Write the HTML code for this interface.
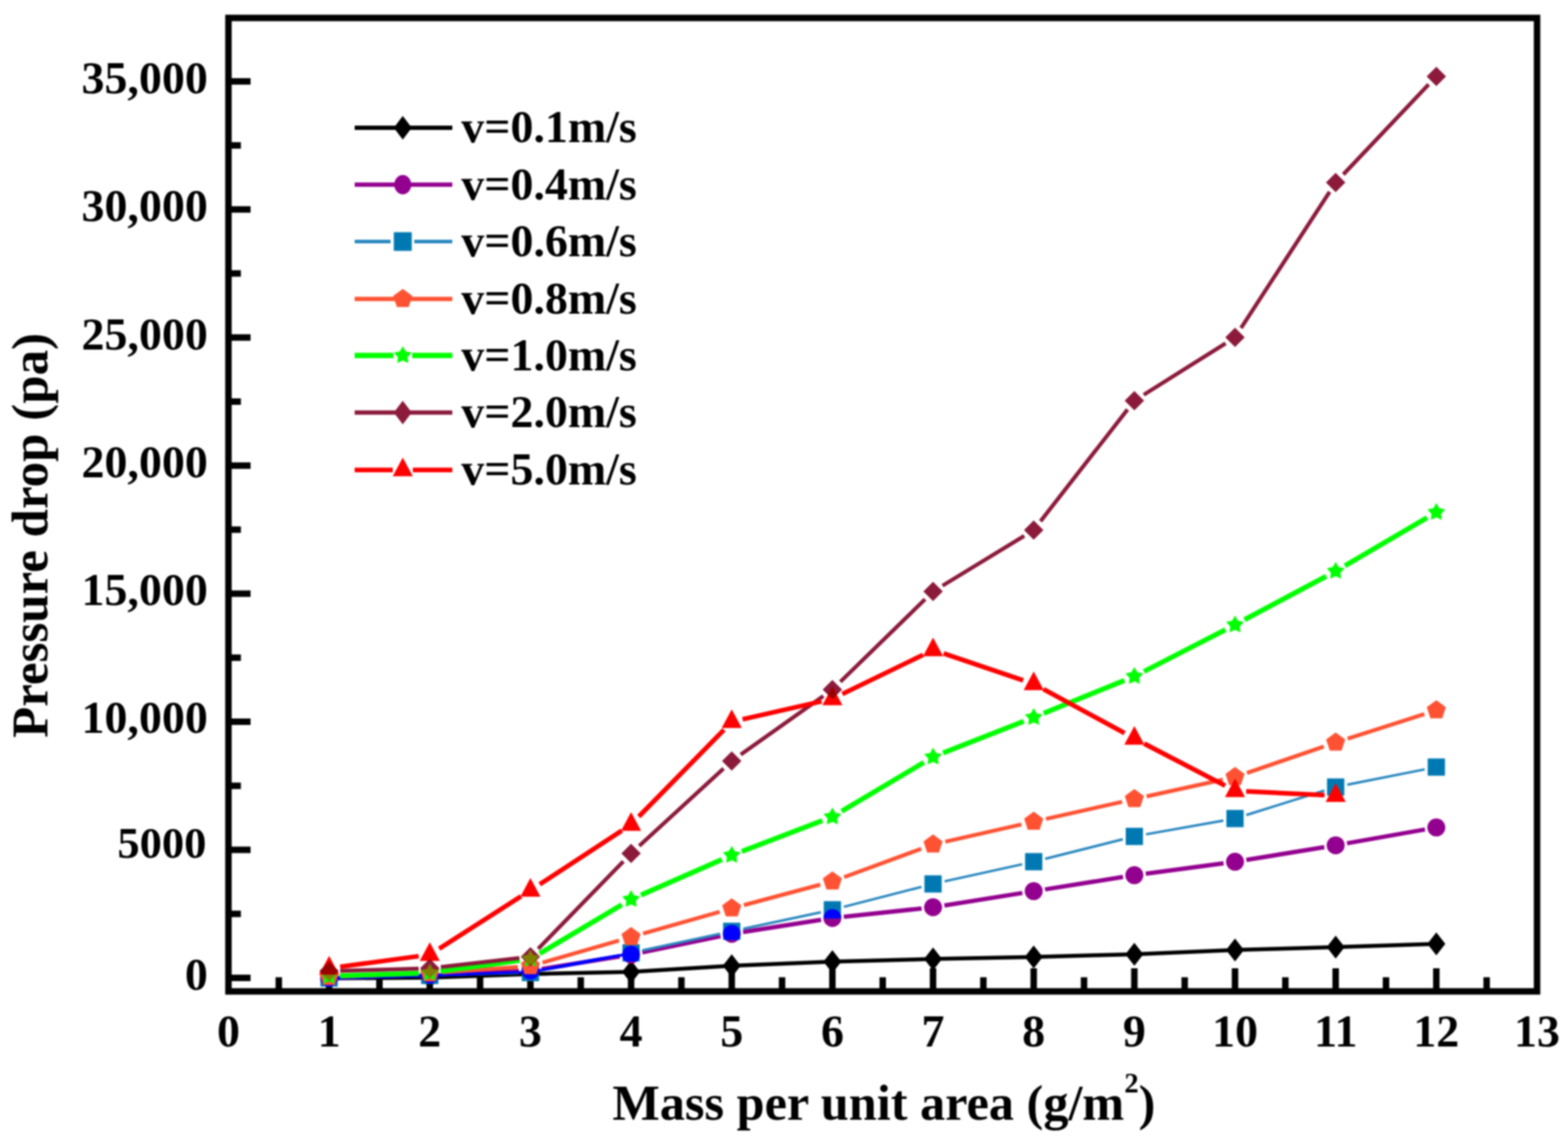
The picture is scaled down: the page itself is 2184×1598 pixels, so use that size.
<!DOCTYPE html><html><head><meta charset="utf-8"><title>Pressure drop vs mass per unit area</title><style>html,body{margin:0;padding:0;background:#fff;}body{width:2184px;height:1598px;overflow:hidden;}svg{display:block;filter:blur(0.9px);}text{font-family:"Liberation Serif","Times New Roman",serif;font-weight:bold;}</style></head><body>
<svg width="2184" height="1598" viewBox="0 0 2184 1598">
<rect x="0" y="0" width="2184" height="1598" fill="#fff"/>
<line x1="318" y1="1362.4" x2="349" y2="1362.4" stroke="#000" stroke-width="9"/>
<line x1="318" y1="1184.0" x2="349" y2="1184.0" stroke="#000" stroke-width="9"/>
<line x1="318" y1="1005.5" x2="349" y2="1005.5" stroke="#000" stroke-width="9"/>
<line x1="318" y1="827.1" x2="349" y2="827.1" stroke="#000" stroke-width="9"/>
<line x1="318" y1="648.7" x2="349" y2="648.7" stroke="#000" stroke-width="9"/>
<line x1="318" y1="470.2" x2="349" y2="470.2" stroke="#000" stroke-width="9"/>
<line x1="318" y1="291.8" x2="349" y2="291.8" stroke="#000" stroke-width="9"/>
<line x1="318" y1="113.4" x2="349" y2="113.4" stroke="#000" stroke-width="9"/>
<line x1="318" y1="1273.2" x2="335.5" y2="1273.2" stroke="#000" stroke-width="9"/>
<line x1="318" y1="1094.8" x2="335.5" y2="1094.8" stroke="#000" stroke-width="9"/>
<line x1="318" y1="916.3" x2="335.5" y2="916.3" stroke="#000" stroke-width="9"/>
<line x1="318" y1="737.9" x2="335.5" y2="737.9" stroke="#000" stroke-width="9"/>
<line x1="318" y1="559.5" x2="335.5" y2="559.5" stroke="#000" stroke-width="9"/>
<line x1="318" y1="381.0" x2="335.5" y2="381.0" stroke="#000" stroke-width="9"/>
<line x1="318" y1="202.6" x2="335.5" y2="202.6" stroke="#000" stroke-width="9"/>
<line x1="458.4" y1="1381" x2="458.4" y2="1349" stroke="#000" stroke-width="9"/>
<line x1="598.6" y1="1381" x2="598.6" y2="1349" stroke="#000" stroke-width="9"/>
<line x1="738.8" y1="1381" x2="738.8" y2="1349" stroke="#000" stroke-width="9"/>
<line x1="879.0" y1="1381" x2="879.0" y2="1349" stroke="#000" stroke-width="9"/>
<line x1="1019.2" y1="1381" x2="1019.2" y2="1349" stroke="#000" stroke-width="9"/>
<line x1="1159.4" y1="1381" x2="1159.4" y2="1349" stroke="#000" stroke-width="9"/>
<line x1="1299.6" y1="1381" x2="1299.6" y2="1349" stroke="#000" stroke-width="9"/>
<line x1="1439.8" y1="1381" x2="1439.8" y2="1349" stroke="#000" stroke-width="9"/>
<line x1="1580.0" y1="1381" x2="1580.0" y2="1349" stroke="#000" stroke-width="9"/>
<line x1="1720.2" y1="1381" x2="1720.2" y2="1349" stroke="#000" stroke-width="9"/>
<line x1="1860.4" y1="1381" x2="1860.4" y2="1349" stroke="#000" stroke-width="9"/>
<line x1="2000.6" y1="1381" x2="2000.6" y2="1349" stroke="#000" stroke-width="9"/>
<line x1="388.3" y1="1381" x2="388.3" y2="1361.5" stroke="#000" stroke-width="9"/>
<line x1="528.5" y1="1381" x2="528.5" y2="1361.5" stroke="#000" stroke-width="9"/>
<line x1="668.7" y1="1381" x2="668.7" y2="1361.5" stroke="#000" stroke-width="9"/>
<line x1="808.9" y1="1381" x2="808.9" y2="1361.5" stroke="#000" stroke-width="9"/>
<line x1="949.1" y1="1381" x2="949.1" y2="1361.5" stroke="#000" stroke-width="9"/>
<line x1="1089.3" y1="1381" x2="1089.3" y2="1361.5" stroke="#000" stroke-width="9"/>
<line x1="1229.5" y1="1381" x2="1229.5" y2="1361.5" stroke="#000" stroke-width="9"/>
<line x1="1369.7" y1="1381" x2="1369.7" y2="1361.5" stroke="#000" stroke-width="9"/>
<line x1="1509.9" y1="1381" x2="1509.9" y2="1361.5" stroke="#000" stroke-width="9"/>
<line x1="1650.1" y1="1381" x2="1650.1" y2="1361.5" stroke="#000" stroke-width="9"/>
<line x1="1790.3" y1="1381" x2="1790.3" y2="1361.5" stroke="#000" stroke-width="9"/>
<line x1="1930.5" y1="1381" x2="1930.5" y2="1361.5" stroke="#000" stroke-width="9"/>
<line x1="2070.7" y1="1381" x2="2070.7" y2="1361.5" stroke="#000" stroke-width="9"/>
<g id="plot">
<polyline points="458.4,1363.0 598.6,1362.0 738.8,1357.0 879.0,1354.0 1019.2,1345.5 1159.4,1339.8 1299.6,1336.0 1439.8,1333.3 1580.0,1329.4 1720.2,1323.6 1860.4,1319.6 2000.6,1315.0" fill="none" stroke="#000000" stroke-width="5.5" stroke-linejoin="round"/>
<polygon points="458.4,1347.0 470.9,1363.0 458.4,1379.0 445.9,1363.0" fill="#000000"/>
<polygon points="598.6,1346.0 611.1,1362.0 598.6,1378.0 586.1,1362.0" fill="#000000"/>
<polygon points="738.8,1341.0 751.3,1357.0 738.8,1373.0 726.3,1357.0" fill="#000000"/>
<polygon points="879.0,1338.0 891.5,1354.0 879.0,1370.0 866.5,1354.0" fill="#000000"/>
<polygon points="1019.2,1329.5 1031.7,1345.5 1019.2,1361.5 1006.7,1345.5" fill="#000000"/>
<polygon points="1159.4,1323.8 1171.9,1339.8 1159.4,1355.8 1146.9,1339.8" fill="#000000"/>
<polygon points="1299.6,1320.0 1312.1,1336.0 1299.6,1352.0 1287.1,1336.0" fill="#000000"/>
<polygon points="1439.8,1317.3 1452.3,1333.3 1439.8,1349.3 1427.3,1333.3" fill="#000000"/>
<polygon points="1580.0,1313.4 1592.5,1329.4 1580.0,1345.4 1567.5,1329.4" fill="#000000"/>
<polygon points="1720.2,1307.6 1732.7,1323.6 1720.2,1339.6 1707.7,1323.6" fill="#000000"/>
<polygon points="1860.4,1303.6 1872.9,1319.6 1860.4,1335.6 1847.9,1319.6" fill="#000000"/>
<polygon points="2000.6,1299.0 2013.1,1315.0 2000.6,1331.0 1988.1,1315.0" fill="#000000"/>
<path d="M474.4,1362.0L582.6,1358.5M614.6,1357.4L722.8,1353.1M754.6,1350.0L863.2,1332.5M894.7,1326.8L1003.5,1304.2M1035.0,1298.5L1143.6,1281.5M1175.3,1277.3L1283.7,1265.7M1315.4,1261.5L1424.0,1244.1M1455.6,1239.1L1564.2,1221.8M1595.9,1217.2L1704.3,1202.7M1736.0,1198.0L1844.6,1180.3M1876.2,1174.9L1984.8,1155.6" fill="none" stroke="#93008F" stroke-width="6"/>
<circle cx="458.4" cy="1362.5" r="12.5" fill="#93008F"/>
<circle cx="598.6" cy="1358.0" r="12.5" fill="#93008F"/>
<circle cx="738.8" cy="1352.5" r="12.5" fill="#93008F"/>
<circle cx="879.0" cy="1330.0" r="12.5" fill="#93008F"/>
<circle cx="1019.2" cy="1301.0" r="12.5" fill="#93008F"/>
<circle cx="1159.4" cy="1279.0" r="12.5" fill="#93008F"/>
<circle cx="1299.6" cy="1264.0" r="12.5" fill="#93008F"/>
<circle cx="1439.8" cy="1241.6" r="12.5" fill="#93008F"/>
<circle cx="1580.0" cy="1219.3" r="12.5" fill="#93008F"/>
<circle cx="1720.2" cy="1200.6" r="12.5" fill="#93008F"/>
<circle cx="1860.4" cy="1177.7" r="12.5" fill="#93008F"/>
<circle cx="2000.6" cy="1152.8" r="12.5" fill="#93008F"/>
<path d="M474.9,1362.1L582.1,1359.4M615.1,1358.5L722.3,1355.5M755.0,1351.8L862.8,1330.7M895.1,1324.0L1003.1,1301.0M1035.3,1294.0L1143.3,1271.0M1175.4,1263.4L1283.6,1235.6M1315.7,1227.9L1423.7,1204.1M1455.8,1196.5L1564.0,1169.3M1596.2,1162.4L1704.0,1143.3M1735.9,1135.5L1844.7,1101.4M1876.6,1093.3L1984.4,1071.9" fill="none" stroke="#2A88C0" stroke-width="3.5"/>
<rect x="446.4" y="1350.5" width="24" height="24" fill="#0079B3"/>
<rect x="586.6" y="1347.0" width="24" height="24" fill="#0079B3"/>
<rect x="726.8" y="1343.0" width="24" height="24" fill="#0079B3"/>
<rect x="867.0" y="1315.5" width="24" height="24" fill="#0079B3"/>
<rect x="1007.2" y="1285.5" width="24" height="24" fill="#0079B3"/>
<rect x="1147.4" y="1255.5" width="24" height="24" fill="#0079B3"/>
<rect x="1287.6" y="1219.5" width="24" height="24" fill="#0079B3"/>
<rect x="1427.8" y="1188.5" width="24" height="24" fill="#0079B3"/>
<rect x="1568.0" y="1153.3" width="24" height="24" fill="#0079B3"/>
<rect x="1708.2" y="1128.4" width="24" height="24" fill="#0079B3"/>
<rect x="1848.4" y="1084.5" width="24" height="24" fill="#0079B3"/>
<rect x="1988.6" y="1056.7" width="24" height="24" fill="#0079B3"/>
<defs><mask id="mpl" maskUnits="userSpaceOnUse" x="0" y="0" width="2184" height="1598"><path d="M458.4,1362.5L598.6,1358.0L738.8,1352.5L879.0,1330.0" stroke="#fff" stroke-width="6.5" fill="none"/></mask></defs>
<path d="M458.4,1362.5L598.6,1359.0L738.8,1355.0L879.0,1327.5" stroke="#0000FF" stroke-width="5" fill="none" mask="url(#mpl)"/>
<defs><clipPath id="cq1"><rect x="446.4" y="1350.5" width="24" height="24"/></clipPath></defs>
<circle cx="458.4" cy="1362.5" r="12.5" fill="#0000FF" clip-path="url(#cq1)"/>
<defs><clipPath id="cq2"><rect x="586.6" y="1347.0" width="24" height="24"/></clipPath></defs>
<circle cx="598.6" cy="1358.0" r="12.5" fill="#0000FF" clip-path="url(#cq2)"/>
<defs><clipPath id="cq3"><rect x="726.8" y="1343.0" width="24" height="24"/></clipPath></defs>
<circle cx="738.8" cy="1352.5" r="12.5" fill="#0000FF" clip-path="url(#cq3)"/>
<defs><clipPath id="cq4"><rect x="867.0" y="1315.5" width="24" height="24"/></clipPath></defs>
<circle cx="879.0" cy="1330.0" r="12.5" fill="#0000FF" clip-path="url(#cq4)"/>
<defs><clipPath id="cq5"><rect x="1007.2" y="1285.5" width="24" height="24"/></clipPath></defs>
<circle cx="1019.2" cy="1301.0" r="12.5" fill="#0000FF" clip-path="url(#cq5)"/>
<defs><clipPath id="cq6"><rect x="1147.4" y="1255.5" width="24" height="24"/></clipPath></defs>
<circle cx="1159.4" cy="1279.0" r="12.5" fill="#0000FF" clip-path="url(#cq6)"/>
<path d="M475.9,1360.4L581.1,1356.6M616.1,1354.8L721.3,1347.2M755.6,1341.1L862.2,1310.4M895.8,1300.7L1002.4,1270.3M1036.1,1261.0L1142.5,1232.5M1175.8,1222.0L1283.2,1182.5M1316.7,1172.6L1422.7,1148.6M1456.9,1140.9L1562.9,1117.1M1597.1,1109.5L1703.1,1086.3M1736.8,1076.8L1843.8,1040.2M1877.1,1029.2L1983.9,994.8" fill="none" stroke="#FF5233" stroke-width="5.5"/>
<polygon points="458.4,1347.0 471.7,1356.7 466.6,1372.3 450.2,1372.3 445.1,1356.7" fill="#FF5233"/>
<polygon points="598.6,1342.0 611.9,1351.7 606.8,1367.3 590.4,1367.3 585.3,1351.7" fill="#FF5233"/>
<polygon points="738.8,1332.0 752.1,1341.7 747.0,1357.3 730.6,1357.3 725.5,1341.7" fill="#FF5233"/>
<polygon points="879.0,1291.5 892.3,1301.2 887.2,1316.8 870.8,1316.8 865.7,1301.2" fill="#FF5233"/>
<polygon points="1019.2,1251.5 1032.5,1261.2 1027.4,1276.8 1011.0,1276.8 1005.9,1261.2" fill="#FF5233"/>
<polygon points="1159.4,1214.0 1172.7,1223.7 1167.6,1239.3 1151.2,1239.3 1146.1,1223.7" fill="#FF5233"/>
<polygon points="1299.6,1162.5 1312.9,1172.2 1307.8,1187.8 1291.4,1187.8 1286.3,1172.2" fill="#FF5233"/>
<polygon points="1439.8,1130.7 1453.1,1140.4 1448.0,1156.0 1431.6,1156.0 1426.5,1140.4" fill="#FF5233"/>
<polygon points="1580.0,1099.3 1593.3,1109.0 1588.2,1124.6 1571.8,1124.6 1566.7,1109.0" fill="#FF5233"/>
<polygon points="1720.2,1068.5 1733.5,1078.2 1728.4,1093.8 1712.0,1093.8 1706.9,1078.2" fill="#FF5233"/>
<polygon points="1860.4,1020.5 1873.7,1030.2 1868.6,1045.8 1852.2,1045.8 1847.1,1030.2" fill="#FF5233"/>
<polygon points="2000.6,975.5 2013.9,985.2 2008.8,1000.8 1992.4,1000.8 1987.3,985.2" fill="#FF5233"/>
<path d="M473.4,1359.5L583.6,1356.0M613.5,1353.4L723.9,1338.1M751.7,1328.4L866.1,1260.6M892.7,1247.0L1005.5,1197.5M1033.2,1186.2L1145.4,1143.3M1172.3,1130.3L1286.7,1062.3M1313.6,1049.1L1425.8,1004.9M1453.7,993.7L1566.1,948.0M1593.4,935.5L1706.8,877.3M1733.4,863.4L1847.2,802.9M1873.3,788.2L1987.7,721.3" fill="none" stroke="#00FF00" stroke-width="7"/>
<polygon points="458.4,1347.0 462.5,1354.3 470.8,1356.0 465.1,1362.2 466.0,1370.5 458.4,1367.0 450.8,1370.5 451.7,1362.2 446.0,1356.0 454.3,1354.3" fill="#00FF00"/>
<polygon points="598.6,1342.5 602.7,1349.8 611.0,1351.5 605.3,1357.7 606.2,1366.0 598.6,1362.5 591.0,1366.0 591.9,1357.7 586.2,1351.5 594.5,1349.8" fill="#00FF00"/>
<polygon points="738.8,1323.0 742.9,1330.3 751.2,1332.0 745.5,1338.2 746.4,1346.5 738.8,1343.0 731.2,1346.5 732.1,1338.2 726.4,1332.0 734.7,1330.3" fill="#00FF00"/>
<polygon points="879.0,1240.0 883.1,1247.3 891.4,1249.0 885.7,1255.2 886.6,1263.5 879.0,1260.0 871.4,1263.5 872.3,1255.2 866.6,1249.0 874.9,1247.3" fill="#00FF00"/>
<polygon points="1019.2,1178.5 1023.3,1185.8 1031.6,1187.5 1025.9,1193.7 1026.8,1202.0 1019.2,1198.5 1011.6,1202.0 1012.5,1193.7 1006.8,1187.5 1015.1,1185.8" fill="#00FF00"/>
<polygon points="1159.4,1125.0 1163.5,1132.3 1171.8,1134.0 1166.1,1140.2 1167.0,1148.5 1159.4,1145.0 1151.8,1148.5 1152.7,1140.2 1147.0,1134.0 1155.3,1132.3" fill="#00FF00"/>
<polygon points="1299.6,1041.6 1303.7,1048.9 1312.0,1050.6 1306.3,1056.8 1307.2,1065.1 1299.6,1061.6 1292.0,1065.1 1292.9,1056.8 1287.2,1050.6 1295.5,1048.9" fill="#00FF00"/>
<polygon points="1439.8,986.4 1443.9,993.7 1452.2,995.4 1446.5,1001.6 1447.4,1009.9 1439.8,1006.4 1432.2,1009.9 1433.1,1001.6 1427.4,995.4 1435.7,993.7" fill="#00FF00"/>
<polygon points="1580.0,929.3 1584.1,936.6 1592.4,938.3 1586.7,944.5 1587.6,952.8 1580.0,949.3 1572.4,952.8 1573.3,944.5 1567.6,938.3 1575.9,936.6" fill="#00FF00"/>
<polygon points="1720.2,857.5 1724.3,864.8 1732.6,866.5 1726.9,872.7 1727.8,881.0 1720.2,877.5 1712.6,881.0 1713.5,872.7 1707.8,866.5 1716.1,864.8" fill="#00FF00"/>
<polygon points="1860.4,782.8 1864.5,790.1 1872.8,791.8 1867.1,798.0 1868.0,806.3 1860.4,802.8 1852.8,806.3 1853.7,798.0 1848.0,791.8 1856.3,790.1" fill="#00FF00"/>
<polygon points="2000.6,700.7 2004.7,708.0 2013.0,709.7 2007.3,715.9 2008.2,724.2 2000.6,720.7 1993.0,724.2 1993.9,715.9 1988.2,709.7 1996.5,708.0" fill="#00FF00"/>
<path d="M473.9,1352.6L583.1,1349.4M614.0,1347.2L723.4,1334.8M749.6,1321.9L868.2,1200.1M890.4,1178.5L1007.8,1070.8M1031.8,1051.3L1146.8,969.7M1170.5,949.9L1288.5,834.9M1312.8,816.0L1426.6,746.6M1449.3,726.3L1570.5,570.5M1593.1,550.0L1707.1,478.3M1728.6,457.0L1852.0,267.2M1871.1,243.0L1989.9,117.7" fill="none" stroke="#8B1A3B" stroke-width="5.5"/>
<polygon points="458.4,1339.5 471.9,1353.0 458.4,1366.5 444.9,1353.0" fill="#8B1A3B"/>
<polygon points="598.6,1335.5 612.1,1349.0 598.6,1362.5 585.1,1349.0" fill="#8B1A3B"/>
<polygon points="738.8,1319.5 752.3,1333.0 738.8,1346.5 725.3,1333.0" fill="#8B1A3B"/>
<polygon points="879.0,1175.5 892.5,1189.0 879.0,1202.5 865.5,1189.0" fill="#8B1A3B"/>
<polygon points="1019.2,1046.8 1032.7,1060.3 1019.2,1073.8 1005.7,1060.3" fill="#8B1A3B"/>
<polygon points="1159.4,947.2 1172.9,960.7 1159.4,974.2 1145.9,960.7" fill="#8B1A3B"/>
<polygon points="1299.6,810.6 1313.1,824.1 1299.6,837.6 1286.1,824.1" fill="#8B1A3B"/>
<polygon points="1439.8,725.0 1453.3,738.5 1439.8,752.0 1426.3,738.5" fill="#8B1A3B"/>
<polygon points="1580.0,544.8 1593.5,558.3 1580.0,571.8 1566.5,558.3" fill="#8B1A3B"/>
<polygon points="1720.2,456.5 1733.7,470.0 1720.2,483.5 1706.7,470.0" fill="#8B1A3B"/>
<polygon points="1860.4,240.7 1873.9,254.2 1860.4,267.7 1846.9,254.2" fill="#8B1A3B"/>
<polygon points="2000.6,93.0 2014.1,106.5 2000.6,120.0 1987.1,106.5" fill="#8B1A3B"/>
<defs><clipPath id="cd1"><polygon points="458.4,1339.5 471.9,1353.0 458.4,1366.5 444.9,1353.0"/></clipPath></defs>
<g clip-path="url(#cd1)"><polygon points="458.4,1347.0 462.5,1354.3 470.8,1356.0 465.1,1362.2 466.0,1370.5 458.4,1367.0 450.8,1370.5 451.7,1362.2 446.0,1356.0 454.3,1354.3" fill="#808000"/></g>
<defs><clipPath id="cd2"><polygon points="598.6,1335.5 612.1,1349.0 598.6,1362.5 585.1,1349.0"/></clipPath></defs>
<g clip-path="url(#cd2)"><polygon points="598.6,1342.5 602.7,1349.8 611.0,1351.5 605.3,1357.7 606.2,1366.0 598.6,1362.5 591.0,1366.0 591.9,1357.7 586.2,1351.5 594.5,1349.8" fill="#808000"/></g>
<defs><clipPath id="cd3"><polygon points="738.8,1319.5 752.3,1333.0 738.8,1346.5 725.3,1333.0"/></clipPath></defs>
<g clip-path="url(#cd3)"><polygon points="738.8,1323.0 742.9,1330.3 751.2,1332.0 745.5,1338.2 746.4,1346.5 738.8,1343.0 731.2,1346.5 732.1,1338.2 726.4,1332.0 734.7,1330.3" fill="#808000"/></g>
<path d="M473.8,1346.9L583.2,1332.1M611.7,1321.7L725.7,1248.8M751.8,1232.0L866.0,1157.2M889.8,1137.6L1008.4,1016.7M1034.3,1002.2L1144.3,977.1M1173.3,966.9L1285.7,912.3M1314.3,910.4L1425.1,947.8M1453.4,960.1L1566.4,1021.4M1593.7,1036.0L1706.5,1094.7M1735.7,1102.6L1844.9,1107.8" fill="none" stroke="#FF0000" stroke-width="6.5"/>
<polygon points="458.4,1331.7 472.4,1357.7 444.4,1357.7" fill="#FF0000"/>
<polygon points="598.6,1312.7 612.6,1338.7 584.6,1338.7" fill="#FF0000"/>
<polygon points="738.8,1223.2 752.8,1249.2 724.8,1249.2" fill="#FF0000"/>
<polygon points="879.0,1131.4 893.0,1157.4 865.0,1157.4" fill="#FF0000"/>
<polygon points="1019.2,988.3 1033.2,1014.3 1005.2,1014.3" fill="#FF0000"/>
<polygon points="1159.4,956.4 1173.4,982.4 1145.4,982.4" fill="#FF0000"/>
<polygon points="1299.6,888.2 1313.6,914.2 1285.6,914.2" fill="#FF0000"/>
<polygon points="1439.8,935.4 1453.8,961.4 1425.8,961.4" fill="#FF0000"/>
<polygon points="1580.0,1011.5 1594.0,1037.5 1566.0,1037.5" fill="#FF0000"/>
<polygon points="1720.2,1084.6 1734.2,1110.6 1706.2,1110.6" fill="#FF0000"/>
<polygon points="1860.4,1091.2 1874.4,1117.2 1846.4,1117.2" fill="#FF0000"/>
<defs><clipPath id="ct1"><polygon points="458.4,1339.5 471.9,1353.0 458.4,1366.5 444.9,1353.0"/></clipPath></defs>
<g clip-path="url(#ct1)"><polygon points="458.4,1331.7 472.4,1357.7 444.4,1357.7" fill="#9A0000"/></g>
<defs><clipPath id="ct2"><polygon points="598.6,1335.5 612.1,1349.0 598.6,1362.5 585.1,1349.0"/></clipPath></defs>
<g clip-path="url(#ct2)"><polygon points="598.6,1312.7 612.6,1338.7 584.6,1338.7" fill="#9A0000"/></g>
<defs><clipPath id="ct6"><polygon points="1159.4,947.2 1172.9,960.7 1159.4,974.2 1145.9,960.7"/></clipPath></defs>
<g clip-path="url(#ct6)"><polygon points="1159.4,956.4 1173.4,982.4 1145.4,982.4" fill="#9A0000"/></g>
</g>
<rect x="318.2" y="25" width="1822.7" height="1356.2" fill="none" stroke="#000" stroke-width="9"/>
<text x="289.5" y="1378.5" font-size="64" text-anchor="end">0</text>
<text x="287.5" y="1194.5" font-size="62" text-anchor="end">5000</text>
<text x="289.5" y="1021.4" font-size="64" text-anchor="end">10,000</text>
<text x="289.5" y="843" font-size="64" text-anchor="end">15,000</text>
<text x="289.5" y="665.4" font-size="64" text-anchor="end">20,000</text>
<text x="289.5" y="487.3" font-size="64" text-anchor="end">25,000</text>
<text x="289.5" y="307.5" font-size="64" text-anchor="end">30,000</text>
<text x="289.5" y="130" font-size="64" text-anchor="end">35,000</text>
<text x="318.2" y="1457.5" font-size="64" text-anchor="middle">0</text>
<text x="458.4" y="1457.5" font-size="64" text-anchor="middle">1</text>
<text x="598.6" y="1457.5" font-size="64" text-anchor="middle">2</text>
<text x="738.8" y="1457.5" font-size="64" text-anchor="middle">3</text>
<text x="879.0" y="1457.5" font-size="64" text-anchor="middle">4</text>
<text x="1019.2" y="1457.5" font-size="64" text-anchor="middle">5</text>
<text x="1159.4" y="1457.5" font-size="64" text-anchor="middle">6</text>
<text x="1299.6" y="1457.5" font-size="64" text-anchor="middle">7</text>
<text x="1439.8" y="1457.5" font-size="64" text-anchor="middle">8</text>
<text x="1580.0" y="1457.5" font-size="64" text-anchor="middle">9</text>
<text x="1720.2" y="1457.5" font-size="64" text-anchor="middle">10</text>
<text x="1860.4" y="1457.5" font-size="64" text-anchor="middle">11</text>
<text x="2000.6" y="1457.5" font-size="64" text-anchor="middle">12</text>
<text x="2140.8" y="1457.5" font-size="64" text-anchor="middle">13</text>
<text x="853" y="1560" font-size="70">Mass per unit area (g/m<tspan font-size="40" dy="-38">2</tspan><tspan dy="38">)</tspan></text>
<text transform="translate(66,1028) rotate(-90)" font-size="71">Pressure drop (pa)</text>
<line x1="494" y1="177.9" x2="630" y2="177.9" stroke="#000000" stroke-width="6"/>
<polygon points="561.0,161.4 573.5,177.9 561.0,194.4 548.5,177.9" fill="#000000"/>
<text x="642.5" y="198.4" font-size="64">v=0.1m/s</text>
<line x1="494" y1="257.3" x2="630" y2="257.3" stroke="#93008F" stroke-width="6"/>
<ellipse cx="561" cy="257.3" rx="11.8" ry="13.5" fill="#93008F"/>
<text x="642.5" y="277.8" font-size="64">v=0.4m/s</text>
<path d="M494,336.5H544.0M577.0,336.5H630" stroke="#2A88C0" stroke-width="5" fill="none"/>
<rect x="548.5" y="323.5" width="25" height="26" fill="#0079B3"/>
<text x="642.5" y="357.0" font-size="64">v=0.6m/s</text>
<line x1="494" y1="416.5" x2="630" y2="416.5" stroke="#FF5233" stroke-width="6"/>
<polygon points="561.0,402.5 574.3,412.2 569.2,427.8 552.8,427.8 547.7,412.2" fill="#FF5233"/>
<text x="642.5" y="437.0" font-size="64">v=0.8m/s</text>
<path d="M494,495.3H548.0M574.0,495.3H630" stroke="#00FF00" stroke-width="7.5" fill="none"/>
<polygon points="561.0,482.3 565.1,489.6 573.4,491.3 567.7,497.5 568.6,505.8 561.0,502.3 553.4,505.8 554.3,497.5 548.6,491.3 556.9,489.6" fill="#00FF00"/>
<text x="642.5" y="515.8" font-size="64">v=1.0m/s</text>
<line x1="494" y1="574.8" x2="630" y2="574.8" stroke="#8B1A3B" stroke-width="6"/>
<polygon points="561.0,558.3 573.5,574.8 561.0,591.3 548.5,574.8" fill="#8B1A3B"/>
<text x="642.5" y="595.3" font-size="64">v=2.0m/s</text>
<path d="M494,654.8H547.0M575.0,654.8H630" stroke="#FF0000" stroke-width="6.5" fill="none"/>
<polygon points="561.0,637.5 575.0,663.5 547.0,663.5" fill="#FF0000"/>
<text x="642.5" y="675.3" font-size="64">v=5.0m/s</text>
</svg></body></html>
